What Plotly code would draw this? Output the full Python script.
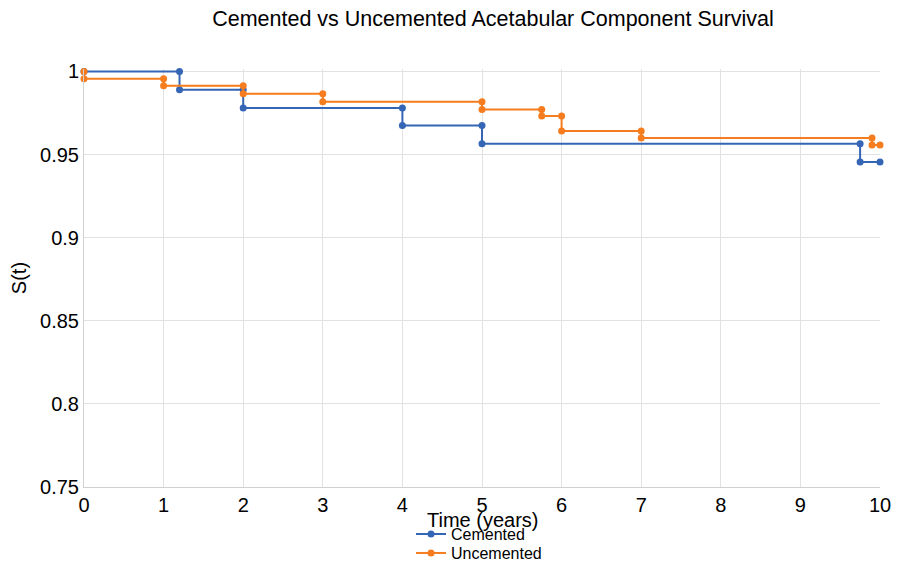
import plotly.graph_objects as go

# Kaplan-Meier step points (time, survival)
cemented_t = [0, 1.2, 1.2, 2, 2, 4, 4, 5, 5, 9.75, 9.75, 10]
cemented_s = [1.0, 1.0, 0.989, 0.989, 0.978, 0.978, 0.9675, 0.9675, 0.9565, 0.9565, 0.9455, 0.9455]

uncemented_t = [0, 0, 1, 1, 2, 2, 3, 3, 5, 5, 5.75, 5.75, 6, 6, 7, 7, 9.9, 9.9, 10]
uncemented_s = [1.0, 0.9956, 0.9956, 0.9914, 0.9914, 0.9866, 0.9866, 0.9818, 0.9818, 0.9772, 0.9772, 0.9732, 0.9732, 0.9642, 0.9642, 0.9600, 0.9600, 0.9558, 0.9558]

x_ticks = [0, 1, 2, 3, 4, 5, 6, 7, 8, 9, 10]
y_ticks = [0.75, 0.8, 0.85, 0.9, 0.95, 1]
y_ticktext = ["0.75", "0.8", "0.85", "0.9", "0.95", "1"]

BLUE = "#3566b5"
ORANGE = "#f57d1f"

fig = go.Figure()
fig.add_trace(go.Scatter(x=cemented_t, y=cemented_s, mode="lines+markers", name="Cemented",
                         line=dict(color=BLUE, width=2), marker=dict(size=7, color=BLUE),
                         cliponaxis=False, legend="legend"))
fig.add_trace(go.Scatter(x=uncemented_t, y=uncemented_s, mode="lines+markers", name="Uncemented",
                         line=dict(color=ORANGE, width=2), marker=dict(size=7, color=ORANGE),
                         cliponaxis=False, legend="legend2"))

# page body adds an 8px offset; figure coords = screen coords - 8
HF = 600
WF = 899
Y_TOP = 1.0015          # small headroom so the S=1 line is not clipped
T = 63 - (Y_TOP - 1.0) * (479 - 63) / 0.25
L = 76
R = WF - 872
inner_h = HF - T
inner_w = WF - L - R
plot_bottom = 479

def py(fig_y):
    return (HF - fig_y) / inner_h

legend_common = dict(orientation="v", x=(403 - L) / inner_w, xanchor="left", yanchor="top",
                     font=dict(size=16), bgcolor="rgba(0,0,0,0)", tracegroupgap=0)

fig.update_layout(
    width=WF, height=HF,
    paper_bgcolor="white", plot_bgcolor="white",
    font=dict(family="Liberation Sans, Arial, sans-serif", color="black"),
    title=dict(text="Cemented vs Uncemented Acetabular Component Survival",
               xref="paper", x=(485 - L) / inner_w, xanchor="center",
               yref="container", y=1 - 10 / HF, yanchor="middle", font=dict(size=21.5)),
    margin=dict(l=L, r=R, t=T, b=0),
    xaxis=dict(range=[0, 10], tickvals=x_ticks, ticktext=[str(v) for v in x_ticks],
               showgrid=True, gridcolor="#e2e2e2", zeroline=False, showline=True, linecolor="#d0d0d0",
               tickfont=dict(size=20), ticklen=0, automargin=False),
    yaxis=dict(range=[0.75, Y_TOP], tickvals=y_ticks, ticktext=y_ticktext,
               domain=[py(plot_bottom), 1.0],
               showgrid=True, gridcolor="#e2e2e2", zeroline=False, showline=True, linecolor="#d0d0d0",
               tickfont=dict(size=20), ticklen=0, automargin=False,
               title=dict(text="S(t)", font=dict(size=20), standoff=12)),
    legend=dict(y=py(509), **legend_common),
    legend2=dict(y=py(528), **legend_common),
    showlegend=True,
    annotations=[dict(text="Time (years)", xref="paper", yref="paper",
                      x=0.5, y=py(512), xanchor="center", yanchor="middle",
                      showarrow=False, font=dict(size=20))],
)

fig.write_html("out.html")
